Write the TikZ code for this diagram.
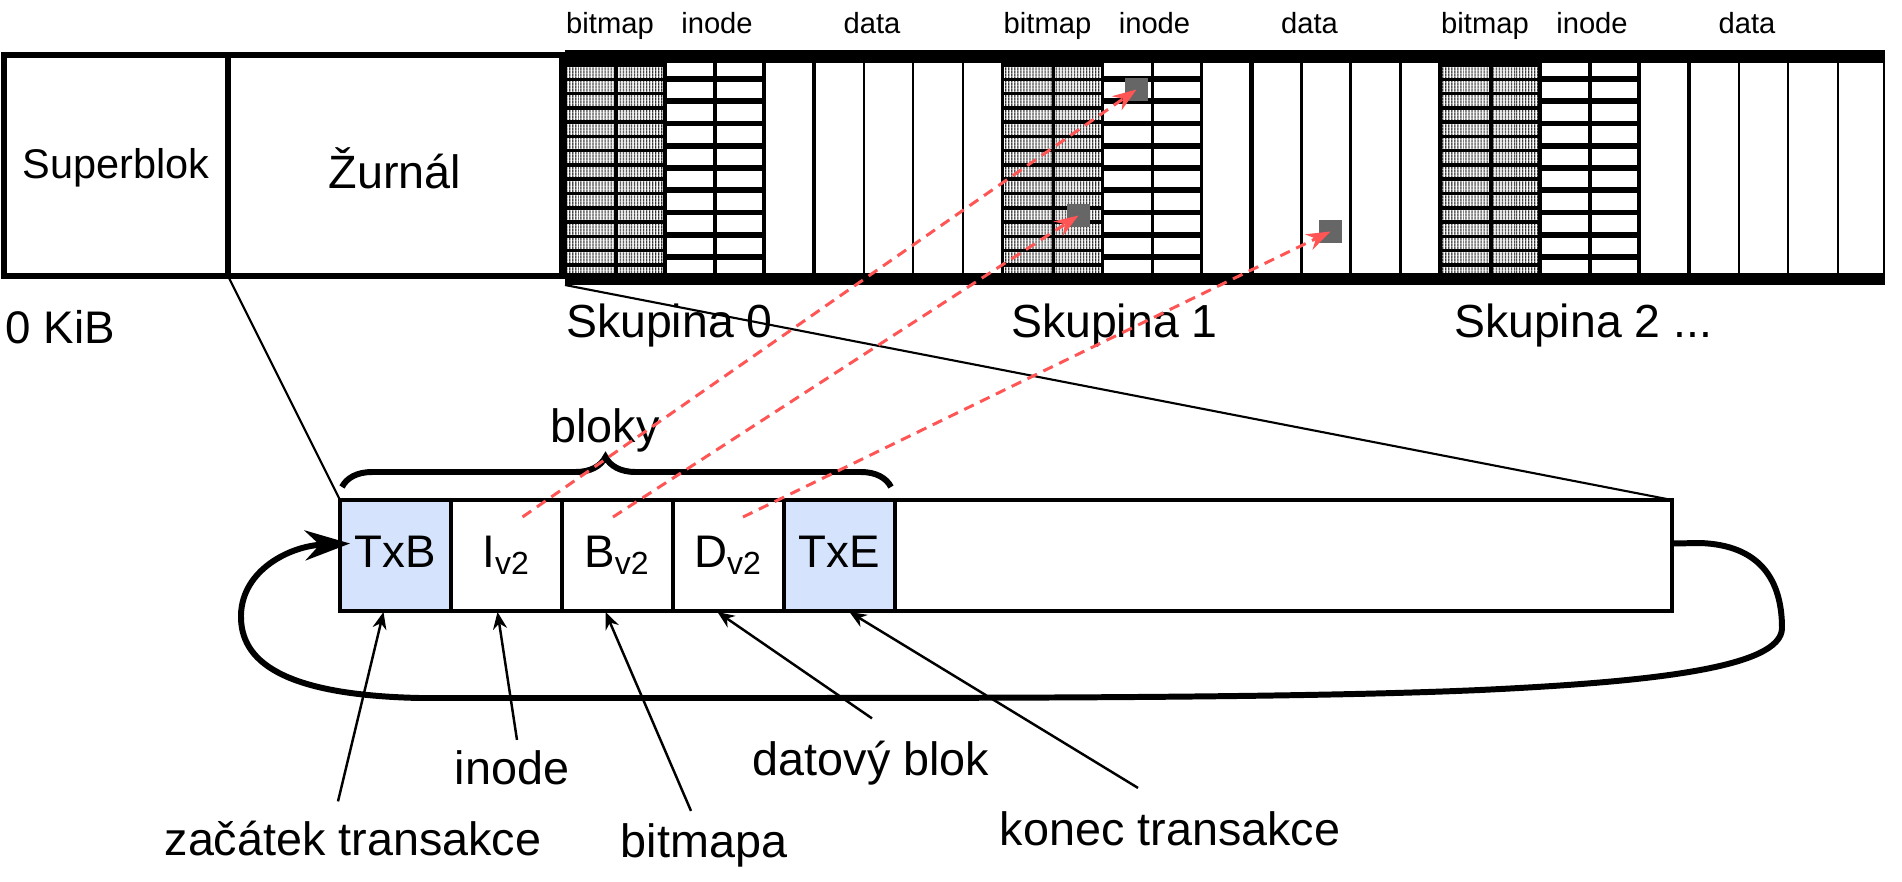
\documentclass[tikz,border=0pt]{standalone}
\usepackage{fontspec}
\setmainfont{Liberation Sans}
\usetikzlibrary{calc,patterns.meta,arrows.meta,decorations.pathreplacing}
\definecolor{txblue}{RGB}{213,228,252}
\definecolor{linkred}{RGB}{255,85,85}
\definecolor{markgray}{RGB}{102,102,102}
\tikzset{
	box/.style={draw, line width=1.7pt, minimum height=22.1mm, inner sep=0pt, outer sep=0pt},
	cell/.style={draw, line width=1.4pt, minimum width=11.1mm, minimum height=11.1mm, inner sep=0pt, outer sep=0pt, text height=9.5pt, text depth=2.95pt, font=\fontsize{13}{15}\selectfont},
	grouplbl/.style={anchor=base, inner sep=1pt, font=\fontsize{8.3}{10}\selectfont},
	grouptitle/.style={anchor=base west, inner sep=1pt, font=\fontsize{13.2}{15}\selectfont},
	tag/.style={anchor=base, inner sep=1pt, font=\fontsize{13.3}{16}\selectfont},
	upd/.style={fill=markgray, minimum size=2.3mm, inner sep=0pt},
	link/.style={draw=linkred, line width=0.85pt, dash pattern=on 3pt off 2pt, -{Stealth[length=2.4mm,width=1.7mm]}},
	ptr/.style={line width=0.7pt, -{Stealth[length=1.7mm,width=1.4mm]}},
	zoomline/.style={line width=0.6pt},
	loopline/.style={line width=1.7pt, -{Stealth[length=4.5mm,width=3mm]}}
}
\def\blockgroup(#1:#2){
	\fill[pattern={Lines[angle=90,distance=0.9pt,line width=0.5pt]}, pattern color=black!85] (#1+2,63) rectangle (#1+100,273);
	\foreach \row in {0,...,14}
		\draw[line width=1pt] (#1,65+14.28*\row) -- (#1+100,65+14.28*\row);
	\foreach \row in {0,...,8}
		\draw[line width=1.7pt] (#1+100,79+22.25*\row) -- (#1+199,79+22.25*\row);
	\foreach \col in {0,51,100,150,199}
		\draw[line width=1pt] (#1+\col,63) -- (#1+\col,273);
	\draw[line width=1.4pt] (#1+249,63) -- (#1+249,273);
	\foreach \col in {299,348,398}
		\draw[line width=0.6pt] (#1+\col,63) -- (#1+\col,273);
	\node[grouplbl] (bitmap#2) at (#1+45,33) {bitmap};
	\node[grouplbl] (inode#2) at (#1+152,33) {inode};
	\node[grouplbl] (data#2) at (#1+307,33) {data};
}

\begin{document}
\begin{tikzpicture}[x=0.1mm, y=-0.1mm]
				\useasboundingbox (0,0) rectangle (1902,882);

				\blockgroup(565:0)
				\blockgroup(1002.5:1)
				\blockgroup(1440:2)
				\fill (565,50) rectangle (1884,63);
				\fill (565,273) rectangle (1884,285);
				\draw[line width=0.6pt] (1884,50) -- (1884,285);
				\coordinate (gbl) at (565,285);

				\node[upd] (isq) at (1136.5,89.5) {};
				\node[upd] (bsq) at (1078.5,215.5) {};
				\node[upd] (dsq) at (1330.5,231.5) {};

				\node[grouptitle] (skup0) at (562,337) {Skupina 0};
				\node[grouptitle] (skup1) at (1007,337) {Skupina 1};
				\node[grouptitle] (skup2) at (1450,337) {Skupina 2 ...};

				\node[box, minimum width=22.4mm] (sb) at (116,165.5) {};
				\node[box, minimum width=33.4mm] (zu) at (395,165.5) {};
				\node[anchor=base, font=\fontsize{11.8}{14}\selectfont] (sbtext) at (116,178) {Superblok};
				\node[anchor=base, font=\fontsize{13.3}{15}\selectfont] (zutext) at (395,188) {Žurnál};
				\node[anchor=base west, inner sep=0pt, font=\fontsize{13}{15}\selectfont] (kib) at (5,343) {0 KiB};

				\node[cell, fill=txblue] (txb) at (395.5,555.5) {TxB};
				\node[cell] (iv2) at (506.5,555.5) {I\textsubscript{v2}};
				\node[cell] (bv2) at (617.5,555.5) {B\textsubscript{v2}};
				\node[cell] (dv2) at (728.5,555.5) {D\textsubscript{v2}};
				\node[cell, fill=txblue] (txe) at (839.5,555.5) {TxE};
				\node[cell, minimum width=77.7mm] (rest) at (1283.5,555.5) {};

				\draw[zoomline] (sb.south east) -- (txb.north west);
				\draw[zoomline] (gbl) -- (rest.north east);

				\draw[decorate, decoration={brace, amplitude=3mm, aspect=0.48}, line width=1.7pt] ($(txb.north west)+(2,-13)$) -- ($(txe.north east)+(-4,-13)$);
				\node[anchor=base, font=\fontsize{13.3}{15}\selectfont] (bloky) at (605,442) {bloky};

				\draw[loopline] ($(rest.east)+(0,-12)$) -- (1700,543) .. controls (1760,545) and (1782,580) .. (1782,628) .. controls (1782,668) and (1650,682) .. (1480,690) .. controls (1300,698) and (1000,698) .. (700,698) -- (420,698) .. controls (280,695) and (240,660) .. (241,615) .. controls (242,570) and (290,546) .. ($(txb.west)+(10,-12)$);

				\node[tag] (zac) at (353,855) {začátek transakce};
				\node[tag] (inodetag) at (512,784) {inode};
				\node[tag] (bitmapa) at (704,857) {bitmapa};
				\node[tag] (datovy) at (871,775) {datový blok};
				\node[tag] (konec) at (1170,845) {konec transakce};
				\draw[ptr] ($(zac.north)+(-15,-15)$) -- ($(txb.south)+(-12,1)$);
				\draw[ptr] ($(inodetag.north)+(5,-6)$) -- ($(iv2.south)+(-9,1)$);
				\draw[ptr] ($(bitmapa.north)+(-13,-8)$) -- ($(bv2.south)+(-12,1)$);
				\draw[ptr] ($(datovy.north)+(1,-18)$) -- ($(dv2.south)+(-11,1)$);
				\draw[ptr] ($(konec.north)+(-32,-19)$) -- ($(txe.south)+(10,1)$);

				\draw[link] ($(iv2.north)+(16,17)$) -- (isq.center);
				\draw[link] ($(bv2.north)+(-4.5,17)$) -- (bsq.center);
				\draw[link] ($(dv2.north)+(14.5,17)$) -- (dsq.center);
\end{tikzpicture}
\end{document}
